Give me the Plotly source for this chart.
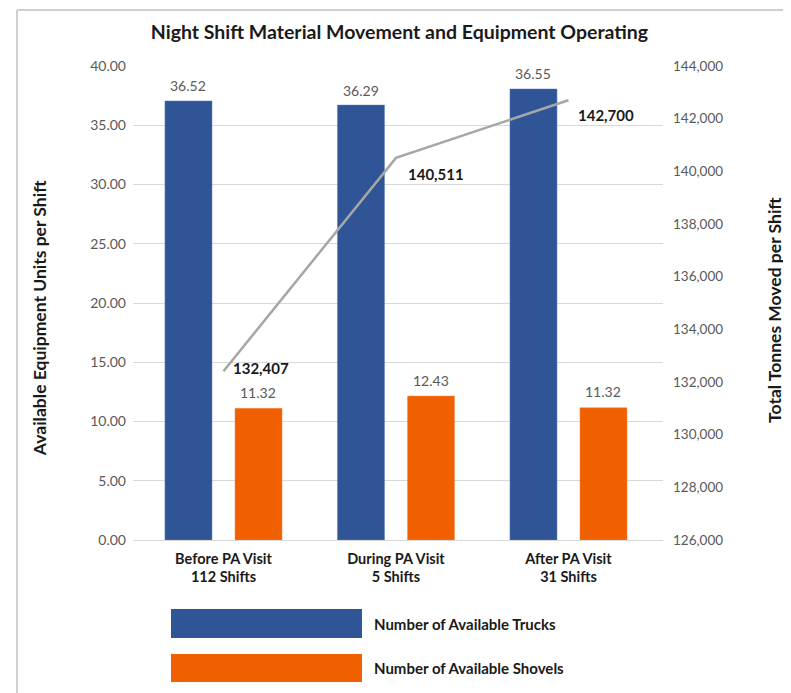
import plotly.graph_objects as go

# ---- data ----
categories = ["<b>Before PA Visit<br>112 Shifts</b>",
              "<b>During PA Visit<br>5 Shifts</b>",
              "<b>After PA Visit<br>31 Shifts</b>"]
trucks_height = [37.05, 36.70, 38.06]      # drawn bar heights
trucks_labels = ["36.52", "36.29", "36.55"]  # printed data labels
shovels_height = [11.11, 12.15, 11.16]
shovels_labels = ["11.32", "12.43", "11.32"]
tonnes = [132407, 140511, 142700]
tonnes_labels = ["132,407", "140,511", "142,700"]
left_ticks = [0, 5, 10, 15, 20, 25, 30, 35, 40]
right_ticks = [126000, 128000, 130000, 132000, 134000, 136000, 138000, 140000, 142000, 144000]

FONT = "Lato"
BLUE = "#2F5597"
ORANGE = "#F06000"
GRAY_TXT = "#595959"
DARK = "#1A1A1A"

fig = go.Figure()
fig.add_trace(go.Bar(
    x=categories, y=trucks_height, name="Number of Available Trucks",
    marker=dict(color=BLUE, line=dict(color="#5B7FC0", width=0.5)),
))
fig.add_trace(go.Bar(
    x=categories, y=shovels_height, name="Number of Available Shovels",
    marker=dict(color=ORANGE, line=dict(color="#F58A4A", width=0.5)),
))
fig.add_trace(go.Scatter(
    x=categories, y=tonnes, yaxis="y2", mode="lines",
    line=dict(color="#A6A6A6", width=2.5), name="Total Tonnes",
    hoverinfo="y",
))

# bar data labels
for c, h, t in zip(categories, trucks_height, trucks_labels):
    fig.add_annotation(x=c, y=h, xref="x", yref="y", text=t, showarrow=False,
                       xshift=-35, yshift=15, xanchor="center", yanchor="middle",
                       font=dict(family=FONT, size=14, color=GRAY_TXT))
for c, h, t in zip(categories, shovels_height, shovels_labels):
    fig.add_annotation(x=c, y=h, xref="x", yref="y", text=t, showarrow=False,
                       xshift=35, yshift=16, xanchor="center", yanchor="middle",
                       font=dict(family=FONT, size=14, color=GRAY_TXT))

# line data labels
shifts = [(8, 3), (10, -16), (8, -15)]
for c, v, t, (dx, dy) in zip(categories, tonnes, tonnes_labels, shifts):
    fig.add_annotation(x=c, y=v, xref="x", yref="y2", text="<b>%s</b>" % t,
                       showarrow=False, xanchor="left", yanchor="middle",
                       xshift=dx, yshift=dy,
                       font=dict(family=FONT, size=15, color=DARK))

# axis titles
fig.add_annotation(x=-0.1774, y=0.468, xref="paper", yref="paper",
                   xanchor="center", yanchor="middle",
                   text="<b>Available Equipment Units per Shift</b>", textangle=-90,
                   showarrow=False, font=dict(family=FONT, size=17.5, color=DARK))
fig.add_annotation(x=1.209, y=0.485, xref="paper", yref="paper",
                   xanchor="center", yanchor="middle",
                   text="<b>Total Tonnes Moved per Shift</b>", textangle=-90,
                   showarrow=False, font=dict(family=FONT, size=17.5, color=DARK))

# custom legend with large swatches
legend_items = [(BLUE, -0.2068, -0.1456, "Number of Available Trucks"),
                (ORANGE, -0.2996, -0.2405, "Number of Available Shovels")]
for col, y0, y1, lab in legend_items:
    fig.add_shape(type="rect", xref="paper", yref="paper", x0=0.0717, x1=0.432,
                  y0=y0, y1=y1, fillcolor=col, line=dict(width=0))
    fig.add_annotation(x=0.451, y=(y0 + y1) / 2, xref="paper", yref="paper",
                       text="<b>%s</b>" % lab, showarrow=False,
                       xanchor="left", yanchor="middle",
                       font=dict(family=FONT, size=15, color=DARK))

# frame (left and top border)
fig.add_shape(type="line", xref="paper", yref="paper", x0=-0.2189, x1=-0.2189,
              y0=1.118, y1=-0.33, line=dict(color="#D0D0D0", width=2))
fig.add_shape(type="line", xref="paper", yref="paper", x0=-0.2189, x1=1.25,
              y0=1.118, y1=1.118, line=dict(color="#D0D0D0", width=2))

# page body has an 8px margin, so the figure is offset by 8px
fig.update_layout(
    width=783, height=685,
    margin=dict(l=125, r=128, t=58, b=153),
    paper_bgcolor="white", plot_bgcolor="white",
    showlegend=False,
    barmode="group", bargap=0.188, bargroupgap=0.3286,
    title=dict(text="<b>Night Shift Material Movement and Equipment Operating</b>",
               x=0.5, xanchor="center", y=0.964, yanchor="middle",
               font=dict(family=FONT, size=19.5, color=DARK)),
    font=dict(family=FONT),
    xaxis=dict(range=[-0.5246, 2.548], showgrid=False, showline=False,
               ticks="", ticklabelstandoff=8,
               tickfont=dict(family=FONT, size=14.5, color=DARK),
               fixedrange=True),
    yaxis=dict(range=[0, 40], tickvals=left_ticks, tickformat=".2f",
               showgrid=True, gridcolor="#D9D9D9", gridwidth=1,
               zeroline=True, zerolinecolor="#D9D9D9", zerolinewidth=1,
               showline=False, ticks="", ticklabelstandoff=6,
               tickfont=dict(family=FONT, size=14, color=GRAY_TXT)),
    yaxis2=dict(range=[126000, 144000], tickvals=right_ticks, tickformat=",d",
                overlaying="y", side="right", showgrid=False, zeroline=False,
                showline=False, ticks="", ticklabelstandoff=9,
                tickfont=dict(family=FONT, size=13.5, color=GRAY_TXT)),
)

fig.write_html("out.html")
